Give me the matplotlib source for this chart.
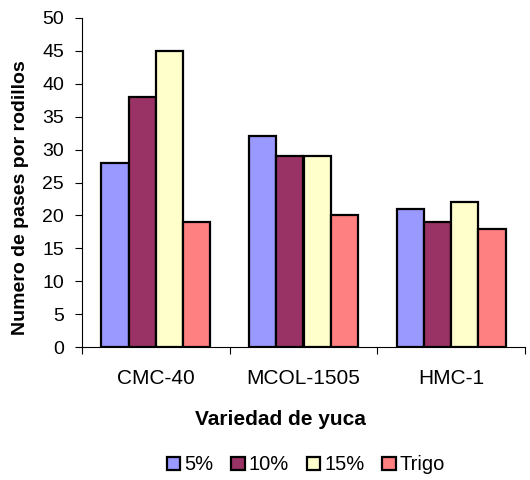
import numpy as np
import matplotlib.pyplot as plt

plt.rcParams['font.family'] = ['Liberation Sans', 'DejaVu Sans']

variedades = ['CMC-40', 'MCOL-1505', 'HMC-1']
series = ['5%', '10%', '15%', 'Trigo']
valores = [
    [28, 32, 21],   # 5%
    [38, 29, 19],   # 10%
    [45, 29, 22],   # 15%
    [19, 20, 18],   # Trigo
]
colores = ['#9999FF', '#993366', '#FFFFCC', '#FF8080']

fig = plt.figure(figsize=(5.3, 4.8), dpi=100)
ax = fig.add_axes([82/530, 1 - 347/480, 443/530, 329/480])

x = np.arange(len(variedades))
w = 0.185
for i, (nombre, vals) in enumerate(zip(series, valores)):
    ax.bar(x + (i - 1.5) * w, vals, w, color=colores[i], edgecolor='black',
           linewidth=1.6, label=nombre, zorder=2)

ax.set_xlim(-0.5, len(variedades) - 0.5)
ax.set_ylim(0, 50)
ax.set_yticks(np.arange(0, 51, 5))
# category separators as major ticks, names as minor ticks
ax.set_xticks(np.arange(-0.5, len(variedades), 1.0))
ax.set_xticklabels([])
ax.set_xticks(x, minor=True)
ax.set_xticklabels(variedades, minor=True, fontsize=15)
ax.tick_params(axis='x', which='minor', length=0, pad=16)
ax.tick_params(axis='x', which='major', length=5, direction='out')
ax.tick_params(axis='y', length=5, direction='out', labelsize=14, pad=8)

for s in ['top', 'right']:
    ax.spines[s].set_visible(False)

ax.set_xlabel('Variedad de yuca', fontsize=15, fontweight='bold')
ax.xaxis.set_label_coords(0.449, -0.19)
ax.set_ylabel('Numero de pases por rodillos', fontsize=14, fontweight='bold')
ax.yaxis.set_label_coords(-0.12, 0.455)

fig.legend(loc='center', bbox_to_anchor=(306/530, 1 - 465/480), ncol=4,
           frameon=False, fontsize=14.5, handlelength=0.65, handleheight=0.65,
           handletextpad=0.2, columnspacing=0.9)

fig.savefig('out.png', dpi=100)
